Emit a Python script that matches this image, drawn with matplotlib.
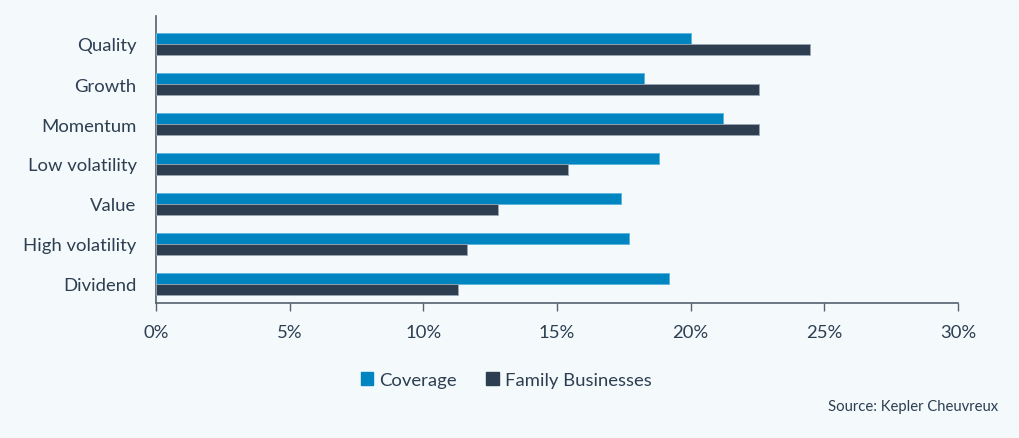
"""Factor exposure bars: Coverage vs Family Businesses."""
import matplotlib
matplotlib.use("Agg")
import matplotlib.pyplot as plt
import matplotlib.patches as mpatches
import numpy as np

# ── Data ──────────────────────────────────────────────────────────────────────
factors = ["Quality", "Growth", "Momentum", "Low volatility",
           "Value", "High volatility", "Dividend"]
coverage = [20.0, 18.25, 21.2, 18.8, 17.4, 17.7, 19.2]
family   = [24.45, 22.55, 22.55, 15.4, 12.8, 11.65, 11.3]
xticks   = [0, 5, 10, 15, 20, 25, 30]

BG       = "#F4F9FC"
COV      = "#0085C0"
COV_EDGE = "#5FB6DE"
FAM      = "#2C3E4F"
FAM_EDGE = "#9AA6B1"
TXT      = "#2C3E50"
AXIS     = "#56616D"

plt.rcParams["font.family"] = ["Lato", "DejaVu Sans"]

fig = plt.figure(figsize=(10.19, 4.39), dpi=100)
fig.patch.set_facecolor(BG)
ax = fig.add_axes([156 / 1019, 1 - 304 / 439, (958 - 156) / 1019, (304 - 17) / 439])
ax.set_facecolor(BG)

y = np.arange(len(factors))
h = 0.285
ax.barh(y - h / 2, coverage, h, color=COV, edgecolor=COV_EDGE, linewidth=0.7, zorder=3)
ax.barh(y + h / 2, family, h, color=FAM, edgecolor=FAM_EDGE, linewidth=0.6, zorder=3)

ax.set_ylim(len(factors) - 1 + 0.475, -0.7)
ax.set_xlim(0, 30)
ax.set_yticks(y)
ax.set_yticklabels(factors, fontsize=13.3, color=TXT)
ax.tick_params(axis="y", length=0, pad=14)
ax.set_xticks(xticks)
ax.set_xticklabels([f"{v}%" for v in xticks], fontsize=13.3, color=TXT)
ax.tick_params(axis="x", length=6, width=1, color=AXIS, pad=9)

for side in ("top", "right"):
    ax.spines[side].set_visible(False)
for side in ("left", "bottom"):
    ax.spines[side].set_color(AXIS)
    ax.spines[side].set_linewidth(1.2)

# Legend below the plot
handles = [
    mpatches.Patch(color=COV, label="Coverage"),
    mpatches.Patch(color=FAM, label="Family Businesses"),
]
fig.legend(handles=handles, loc="center", bbox_to_anchor=(506 / 1019, 1 - 381 / 439),
           ncol=2, frameon=False, fontsize=13.3, labelcolor=TXT,
           handlelength=0.7, handleheight=0.7, handletextpad=0.3, columnspacing=1.6)

fig.text(998 / 1019, 1 - 407 / 439, "Source: Kepler Cheuvreux",
         ha="right", va="center", fontsize=10.7, color=TXT)

fig.savefig("out.png", dpi=100, facecolor=fig.get_facecolor())
